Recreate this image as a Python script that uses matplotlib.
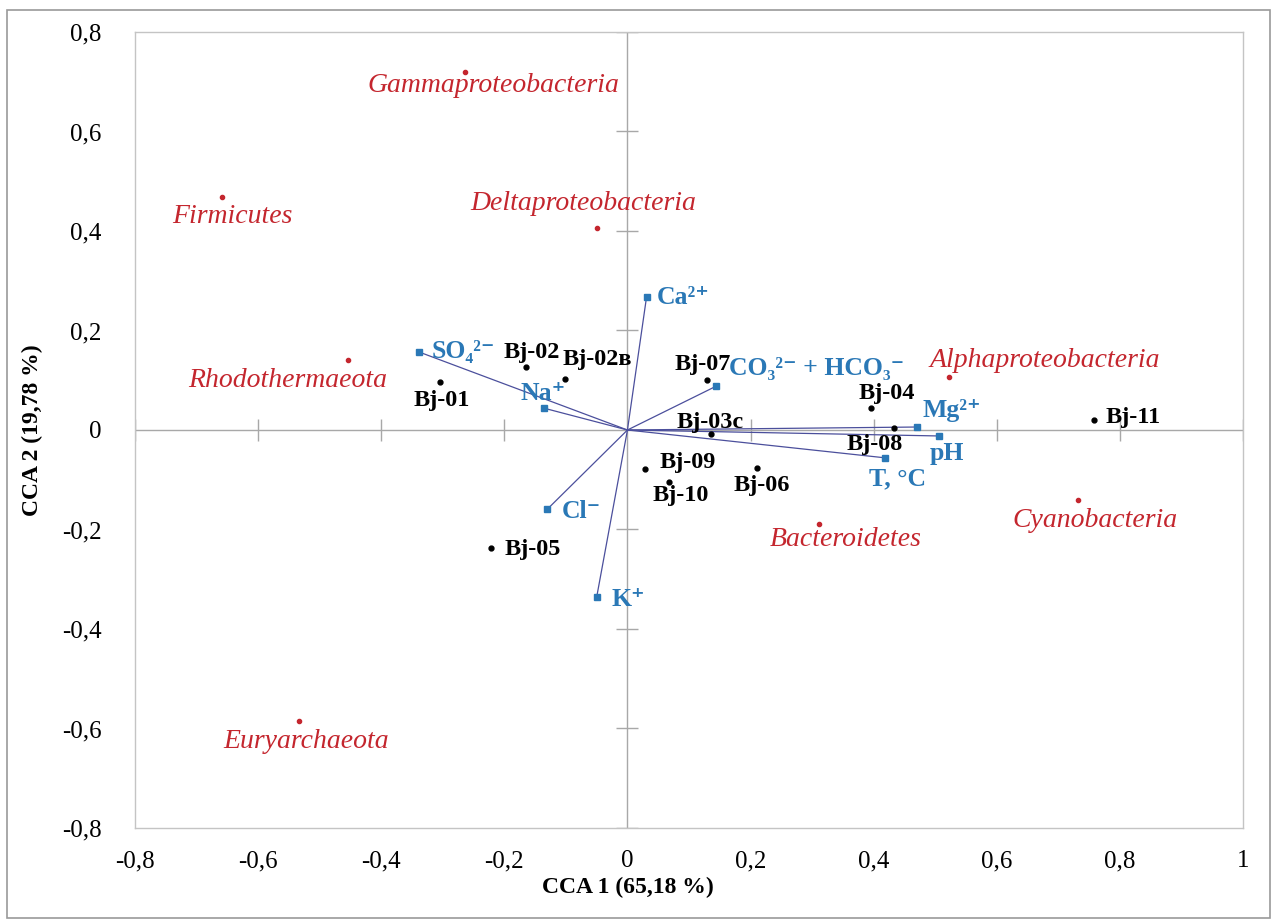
import matplotlib
matplotlib.use("Agg")
import matplotlib.pyplot as plt
from matplotlib.patches import Rectangle

plt.rcParams['font.family'] = ['Liberation Serif', 'DejaVu Serif']

# phyla (red)
phyla = ['Gammaproteobacteria', 'Firmicutes', 'Deltaproteobacteria', 'Rhodothermaeota',
         'Alphaproteobacteria', 'Cyanobacteria', 'Bacteroidetes', 'Euryarchaeota']
phyla_x = [-0.264, -0.659, -0.049, -0.454, 0.523, 0.732, 0.312, -0.534]
phyla_y = [0.720, 0.468, 0.406, 0.141, 0.107, -0.141, -0.189, -0.585]

# samples (black)
samples = ['Bj-01', 'Bj-02', 'Bj-02в', 'Bj-03c', 'Bj-04', 'Bj-05',
           'Bj-06', 'Bj-07', 'Bj-08', 'Bj-09', 'Bj-10', 'Bj-11']
samp_x = [-0.305, -0.164, -0.101, 0.135, 0.396, -0.221, 0.211, 0.130, 0.433, 0.029, 0.068, 0.758]
samp_y = [0.096, 0.127, 0.103, -0.008, 0.044, -0.237, -0.076, 0.101, 0.004, -0.078, -0.105, 0.020]

# environmental vectors (blue)
env = ['SO₄²⁻', 'Na⁺', 'Ca²⁺', 'CO₃²⁻ + HCO₃⁻', 'Mg²⁺', 'pH', 'T, °C', 'Cl⁻', 'K⁺']
env_x = [-0.339, -0.136, 0.031, 0.144, 0.471, 0.506, 0.419, -0.130, -0.050]
env_y = [0.157, 0.044, 0.267, 0.088, 0.006, -0.012, -0.056, -0.159, -0.336]

xticks = [-0.8, -0.6, -0.4, -0.2, 0, 0.2, 0.4, 0.6, 0.8, 1]
yticks = [-0.8, -0.6, -0.4, -0.2, 0, 0.2, 0.4, 0.6, 0.8]

# label placement (pixel offsets, alignment)
phyla_off = [(28, -14, 'center'), (11, -19, 'center'), (-14, 25, 'center'), (-60, -21, 'center'),
             (95, 16, 'center'), (17, -20, 'center'), (26, -15, 'center'), (7, -20, 'center')]
samp_off = [(2, -18, 'center'), (5, 14, 'center'), (32, 19, 'center'), (0, 11, 'center'),
            (16, 15, 'center'), (13, -2, 'left'), (4, -18, 'center'), (-5, 15, 'center'),
            (-19, -16, 'center'), (14, 6, 'left'), (11, -13, 'center'), (12, 3, 'left')]
env_off = [(13, 0, 'left'), (-1, 15, 'center'), (10, 0, 'left'), (13, 18, 'left'),
           (34, 17, 'center'), (8, -18, 'center'), (12, -21, 'center'), (14, -2, 'left'),
           (15, -2, 'left')]

red = '#c4262e'
blue = '#2a78b6'
gray = '#a8a8a8'

fig = plt.figure(figsize=(12.78, 9.24), dpi=100)
ax = fig.add_axes([135/1278, 1 - 828/924, (1243-135)/1278, (828-32)/924])
fig.patches.append(Rectangle((7/1278, 1 - 918/924), 1263/1278, 908/924,
                             transform=fig.transFigure, fill=False,
                             edgecolor='#9a9a9a', lw=1.2))

ax.set_xlim(-0.8, 1)
ax.set_ylim(-0.8, 0.8)
for s in ax.spines.values():
    s.set_color('#c4c4c4')
    s.set_linewidth(1)

ax.axhline(0, color=gray, lw=1, zorder=1)
ax.axvline(0, color=gray, lw=1, zorder=1)
ax.plot([t for t in xticks if t != 0], [0]*(len(xticks)-1), ls='none', marker='|',
        ms=16, mew=1, color=gray, zorder=1)
ax.plot([0]*(len(yticks)-1), [t for t in yticks if t != 0], ls='none', marker='_',
        ms=16, mew=1, color=gray, zorder=1)

ax.set_xticks(xticks)
ax.set_yticks(yticks)
ax.set_xticklabels([('%g' % t).replace('.', ',') for t in xticks])
ax.set_yticklabels([('%g' % t).replace('.', ',') for t in yticks])
ax.tick_params(axis='x', length=0, pad=16, labelsize=18)
ax.tick_params(axis='y', length=0, pad=24, labelsize=18)

ax.set_xlabel('CCA 1 (65,18 %)', fontsize=17, fontweight='bold')
ax.xaxis.set_label_coords(0.8/1.8, -0.062)
ax.set_ylabel('CCA 2 (19,78 %)', fontsize=17, fontweight='bold')
ax.yaxis.set_label_coords(-0.083, 0.5)

# vectors
for x, y in zip(env_x, env_y):
    ax.plot([0, x], [0, y], color='#4b4f9c', lw=0.9, zorder=2)
ax.plot(env_x, env_y, ls='none', marker='s', ms=4, color=blue, zorder=3)

ax.plot(phyla_x, phyla_y, ls='none', marker='o', ms=3, color=red, zorder=3)
ax.plot(samp_x, samp_y, ls='none', marker='o', ms=3.5, color='black', zorder=3)

for name, x, y, (dx, dy, ha) in zip(phyla, phyla_x, phyla_y, phyla_off):
    ax.annotate(name, (x, y), xytext=(dx, dy), textcoords='offset pixels',
                ha=ha, va='center', fontsize=20, style='italic', color=red)
for name, x, y, (dx, dy, ha) in zip(samples, samp_x, samp_y, samp_off):
    ax.annotate(name, (x, y), xytext=(dx, dy), textcoords='offset pixels',
                ha=ha, va='center', fontsize=17.5, fontweight='bold', color='black')
for name, x, y, (dx, dy, ha) in zip(env, env_x, env_y, env_off):
    ax.annotate(name, (x, y), xytext=(dx, dy), textcoords='offset pixels',
                ha=ha, va='center', fontsize=18.5, fontweight='bold', color=blue)

fig.savefig('out.png', dpi=100, facecolor='white')
